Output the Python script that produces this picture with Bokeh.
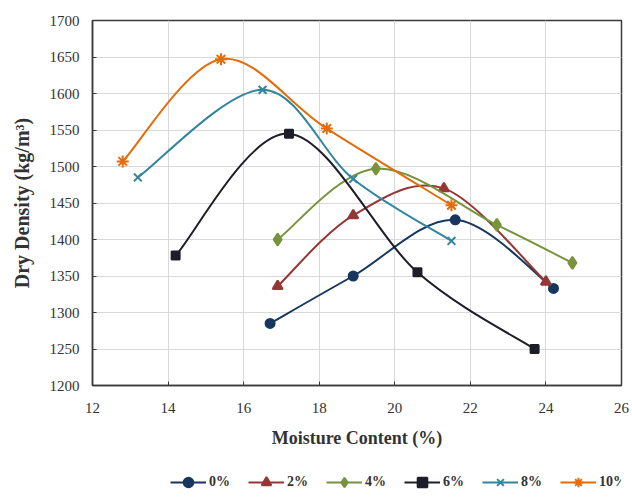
from bokeh.plotting import figure
from bokeh.models import Legend, LegendItem, Range1d, FixedTicker
from bokeh.layouts import column
from bokeh.embed import file_html
from bokeh.resources import INLINE

series_names = ["0%", "2%", "4%", "6%", "8%", "10%"]
mc_0 = [16.7, 18.9, 21.6, 24.2]
dd_0 = [1285, 1350, 1427, 1333]
mc_2 = [16.9, 18.9, 21.3, 24.0]
dd_2 = [1336, 1433, 1470, 1342]
mc_4 = [16.9, 19.5, 22.7, 24.7]
dd_4 = [1400, 1497, 1420, 1368]
mc_6 = [14.2, 17.2, 20.6, 23.7]
dd_6 = [1378, 1545, 1355, 1250]
mc_8 = [13.2, 16.5, 18.9, 21.5]
dd_8 = [1485, 1605, 1483, 1398]
mc_10 = [12.8, 15.4, 18.2, 21.5]
dd_10 = [1507, 1647, 1552, 1447]

x_ticks = [12, 14, 16, 18, 20, 22, 24, 26]
y_ticks = [1200, 1250, 1300, 1350, 1400, 1450, 1500, 1550, 1600, 1650, 1700]

xs_all = [mc_0, mc_2, mc_4, mc_6, mc_8, mc_10]
ys_all = [dd_0, dd_2, dd_4, dd_6, dd_8, dd_10]
colors = ["#17375E", "#953735", "#77933C", "#1E1E28", "#31859C", "#E46C0A"]
markers = ["circle", "triangle", "diamond", "square", "x", "asterisk"]
msizes = [9, 10, 12, 8, 11, 12]

SERIF = "Liberation Serif"

p = figure(frame_width=529, frame_height=365, output_backend="svg", toolbar_location=None,
           min_border_left=92, min_border_right=8, min_border_top=20, min_border_bottom=80,
           x_range=Range1d(12, 26), y_range=Range1d(1200, 1700))

p.outline_line_color = "#3a3a3a"
p.outline_line_width = 1.5
p.xgrid.grid_line_color = "#d9d9d9"
p.ygrid.grid_line_color = "#d9d9d9"
p.xaxis.ticker = FixedTicker(ticks=x_ticks)
p.yaxis.ticker = FixedTicker(ticks=y_ticks)

for ax in (p.xaxis[0], p.yaxis[0]):
    ax.axis_line_color = "#3a3a3a"
    ax.axis_line_width = 1.5
    ax.major_tick_in = 4
    ax.major_tick_out = 0
    ax.minor_tick_line_color = None
    ax.major_tick_line_color = "#3a3a3a"
    ax.major_label_text_font = SERIF
    ax.major_label_text_font_size = "15px"
    ax.major_label_text_color = "#333333"
    ax.axis_label_text_font = SERIF
    ax.axis_label_text_font_style = "bold"
    ax.axis_label_text_color = "#333333"

p.xaxis.axis_label = "Moisture Content (%)"
p.yaxis.axis_label = "Dry Density (kg/m³)"
p.xaxis.axis_label_text_font_size = "18px"
p.yaxis.axis_label_text_font_size = "20px"
p.xaxis.major_label_standoff = 17
p.xaxis.axis_label_standoff = 12
p.yaxis.major_label_standoff = 13
p.yaxis.axis_label_standoff = 14


def bezier_segments(xs, ys):
    n = len(xs)
    out = dict(x0=[], y0=[], x1=[], y1=[], cx0=[], cy0=[], cx1=[], cy1=[])
    for i in range(n - 1):
        im = max(i - 1, 0)
        ip2 = min(i + 2, n - 1)
        out["x0"].append(xs[i]); out["y0"].append(ys[i])
        out["x1"].append(xs[i + 1]); out["y1"].append(ys[i + 1])
        out["cx0"].append(xs[i] + (xs[i + 1] - xs[im]) / 6.0)
        out["cy0"].append(ys[i] + (ys[i + 1] - ys[im]) / 6.0)
        out["cx1"].append(xs[i + 1] - (xs[ip2] - xs[i]) / 6.0)
        out["cy1"].append(ys[i + 1] - (ys[ip2] - ys[i]) / 6.0)
    return out


for name, xs, ys, c, m, s in zip(series_names, xs_all, ys_all, colors, markers, msizes):
    seg = bezier_segments(xs, ys)
    p.bezier(x0="x0", y0="y0", x1="x1", y1="y1", cx0="cx0", cy0="cy0",
             cx1="cx1", cy1="cy1", source=seg, line_color=c, line_width=2)
    p.scatter(xs, ys, marker=m, size=s, fill_color=c, line_color=c, line_width=2)

# Legend strip below the chart (its renderers hold the same data, kept out of view)
leg = figure(width=629, height=32, output_backend="svg", toolbar_location=None,
             x_range=Range1d(0, 1), y_range=Range1d(0, 1),
             min_border_left=0, min_border_right=0, min_border_top=0, min_border_bottom=0)
leg.xaxis.visible = False
leg.yaxis.visible = False
leg.xgrid.visible = False
leg.ygrid.visible = False
leg.outline_line_color = None

items = []
for name, xs, ys, c, m, s in zip(series_names, xs_all, ys_all, colors, markers, msizes):
    lr = leg.line(xs, ys, line_color=c, line_width=2)
    sr = leg.scatter(xs, ys, marker=m, size=s, fill_color=c, line_color=c, line_width=2)
    items.append(LegendItem(label=name, renderers=[lr, sr]))

legend = Legend(items=items, orientation="horizontal", location=(78, 3),
                label_text_font=SERIF, label_text_font_style="bold",
                label_text_font_size="14px", label_text_color="#333333",
                glyph_width=36, glyph_height=24, spacing=18, label_standoff=3,
                border_line_color=None, background_fill_alpha=0,
                margin=0, padding=1)
leg.add_layout(legend, "center")

open("out.html", "w").write(file_html(column(p, leg), INLINE))
